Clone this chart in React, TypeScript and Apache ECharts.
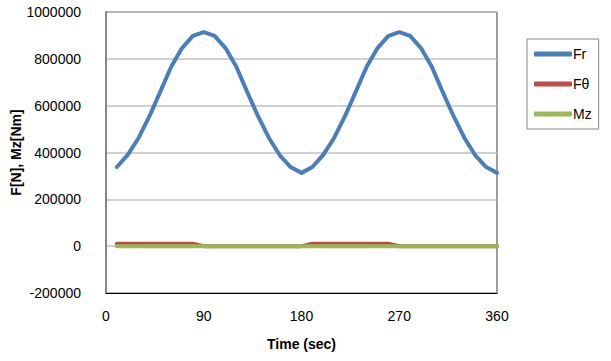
import React, { useEffect, useRef } from "react";
import * as echarts from "echarts";

const times = [10, 20, 30, 40, 50, 60, 70, 80, 90, 100, 110, 120, 130, 140, 150, 160, 170, 180,
  190, 200, 210, 220, 230, 240, 250, 260, 270, 280, 290, 300, 310, 320, 330, 340, 350, 360];
const frValues = [338000, 390000, 462000, 555000, 660000, 766000, 846000, 898000, 914000, 898000, 846000, 766000, 658000, 555000, 462000, 388000, 338000, 313000,
  338000, 390000, 462000, 555000, 660000, 766000, 846000, 898000, 914000, 898000, 846000, 766000, 658000, 555000, 462000, 388000, 338000, 313000];
const fthetaValues = [10000, 10000, 10000, 10000, 10000, 10000, 10000, 10000, 0, 0, 0, 0, 0, 0, 0, 0, 0, 0,
  10000, 10000, 10000, 10000, 10000, 10000, 10000, 10000, 0, 0, 0, 0, 0, 0, 0, 0, 0, 0];
const mzValues = [0, 0, 0, 0, 0, 0, 0, 0, 0, 0, 0, 0, 0, 0, 0, 0, 0, 0,
  0, 0, 0, 0, 0, 0, 0, 0, 0, 0, 0, 0, 0, 0, 0, 0, 0, 0];
const seriesNames = ["Fr", "F\u03b8", "Mz"];
const seriesColors = ["#4a7ebb", "#be4b48", "#98b954"];

const FONT = "'Liberation Sans', Arial, sans-serif";

export default function App() {
  const ref = useRef<HTMLDivElement>(null);
  useEffect(() => {
    if (!ref.current) return;
    const chart = echarts.init(ref.current, undefined, { renderer: "svg" });
    const all = [frValues, fthetaValues, mzValues];
    chart.setOption({
      animation: false,
      backgroundColor: "#ffffff",
      textStyle: { fontFamily: FONT },
      grid: {
        left: 106, right: 114, top: 12, bottom: 68,
        outerBoundsMode: "none",
        containLabel: false,
        show: true, borderColor: "#3a3a3a", borderWidth: 1,
      },
      legend: {
        orient: "vertical",
        left: 527,
        top: 39,
        padding: [8, 7, 8, 7],
        itemGap: 16,
        itemWidth: 38,
        itemHeight: 5,
        icon: "roundRect",
        borderColor: "#888888",
        borderWidth: 1,
        borderRadius: 0,
        textStyle: { fontFamily: FONT, fontSize: 14, color: "#000", padding: [0, 0, 0, -4] },
        data: seriesNames,
      },
      xAxis: {
        type: "value",
        min: 0, max: 360, interval: 90,
        name: "Time (sec)",
        nameLocation: "middle",
        nameGap: 44,
        nameMoveOverlap: false,
        nameTextStyle: { fontFamily: FONT, fontSize: 14, fontWeight: "bold", color: "#000" },
        axisLine: { show: true, onZero: false, lineStyle: { color: "#000", width: 1 } },
        axisTick: { show: false },
        splitLine: { show: false },
        axisLabel: { fontFamily: FONT, fontSize: 14, color: "#000", margin: 16 },
      },
      yAxis: {
        type: "value",
        min: -200000, max: 1000000, interval: 200000,
        name: "F[N], Mz[Nm]",
        nameLocation: "middle",
        nameGap: 83,
        nameMoveOverlap: false,
        nameTextStyle: { fontFamily: FONT, fontSize: 14, fontWeight: "bold", color: "#000" },
        axisLine: { show: true, lineStyle: { color: "#868686", width: 2 } },
        axisTick: { show: false },
        splitLine: { show: true, lineStyle: { color: "#c0c0c0", width: 1.5 } },
        axisLabel: {
          fontFamily: FONT, fontSize: 14, color: "#000", margin: 25,
          formatter: (v: number) => String(v),
        },
      },
      series: seriesNames.map((name, i) => ({
        name,
        type: "line",
        data: times.map((t, j) => [t, all[i][j]]),
        showSymbol: false,
        symbol: "none",
        smooth: false,
        lineStyle: { color: seriesColors[i], width: 4, cap: "round", join: "round" },
        itemStyle: { color: seriesColors[i] },
      })),
    });
    return () => chart.dispose();
  }, []);
  return (
    <div
      ref={ref}
      style={{ position: "fixed", left: 0, top: 0, width: 611, height: 361, background: "#fff" }}
    />
  );
}
